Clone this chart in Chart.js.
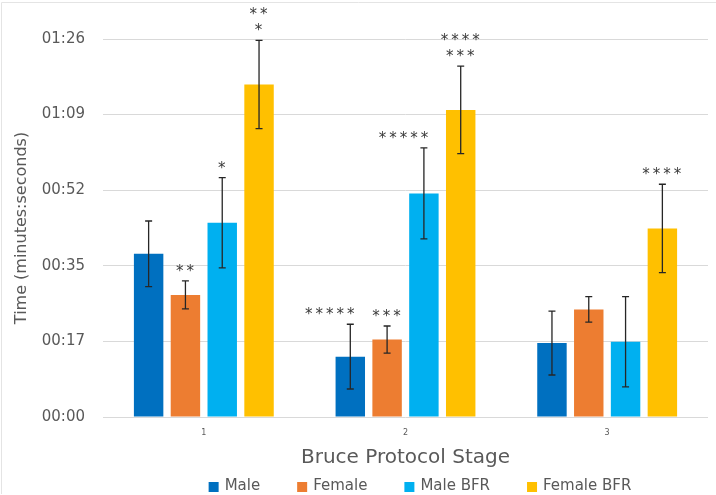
<!DOCTYPE html>
<html>
<head>
<meta charset="utf-8">
<script src="https://cdn.jsdelivr.net/npm/chart.js@4/dist/chart.umd.min.js"></script>
<style>
  html, body { margin: 0; padding: 0; background: #ffffff; }
  #wrap { width: 716px; height: 495px; position: relative; }
</style>
</head>
<body>
<div id="wrap"><canvas id="c" width="716" height="495"></canvas></div>
<script>
// ---- Data (seconds) ----
const stages = ["1", "2", "3"];
const seriesNames = ["Male", "Female", "Male BFR", "Female BFR"];
const maleValues      = [37.3, 13.8, 16.9];
const femaleValues    = [27.9, 17.7, 24.6];
const maleBfrValues   = [44.4, 51.1, 17.2];
const femaleBfrValues = [76.0, 70.2, 43.1];
const maleErrors      = [7.5, 7.4, 7.3];
const femaleErrors    = [3.2, 3.1, 2.9];
const maleBfrErrors   = [10.3, 10.4, 10.3];
const femaleBfrErrors = [10.1, 10.0, 10.1];
// significance marks (lines stacked upward above each error bar)
const maleMarks      = [[], ["*****"], []];
const femaleMarks    = [["**"], ["***"], []];
const maleBfrMarks   = [["*"], ["*****"], []];
const femaleBfrMarks = [["*", "**"], ["***", "****"], ["****"]];
const tickSeconds = [0, 17.28, 34.56, 51.84, 69.12, 86.4];
const tickLabels  = ["00:00", "00:17", "00:35", "00:52", "01:09", "01:26"];
const colors = ["#0070C0", "#ED7D31", "#00B0F0", "#FFC000"];

const valueSets = [maleValues, femaleValues, maleBfrValues, femaleBfrValues];
const errorSets = [maleErrors, femaleErrors, maleBfrErrors, femaleBfrErrors];
const markSets  = [maleMarks, femaleMarks, maleBfrMarks, femaleBfrMarks];

const FONT = "'DejaVu Sans', sans-serif";
const GRAY = "#595959";

const errorBarPlugin = {
  id: 'errorBars',
  afterDatasetsDraw(chart) {
    const ctx = chart.ctx;
    const y = chart.scales.y;
    ctx.save();
    chart.data.datasets.forEach((ds, i) => {
      const meta = chart.getDatasetMeta(i);
      meta.data.forEach((el, j) => {
        const v = valueSets[i][j], e = errorSets[i][j];
        const yt = y.getPixelForValue(v + e);
        const yb = y.getPixelForValue(v - e);
        const x = el.x;
        ctx.strokeStyle = "#262626";
        ctx.lineWidth = 1.3;
        ctx.beginPath();
        ctx.moveTo(x, yt); ctx.lineTo(x, yb);
        ctx.moveTo(x - 3.5, yt); ctx.lineTo(x + 3.5, yt);
        ctx.moveTo(x - 3.5, yb); ctx.lineTo(x + 3.5, yb);
        ctx.stroke();
        const marks = markSets[i][j];
        ctx.fillStyle = "#3a3a3a";
        ctx.font = "15px 'DejaVu Sans', sans-serif";
        ctx.textAlign = "center";
        ctx.textBaseline = "alphabetic";
        if ('letterSpacing' in ctx) ctx.letterSpacing = "3px";
        marks.forEach((m, k) => {
          const dx = m.length >= 5 ? -19 : 1;
          ctx.fillText(m, x + dx, yt - 5 - k * 16);
        });
        if ('letterSpacing' in ctx) ctx.letterSpacing = "0px";
      });
    });
    ctx.restore();
  }
};

const legendPlugin = {
  id: 'customLegend',
  afterDraw(chart) {
    const ctx = chart.ctx;
    ctx.save();
    ctx.font = "15px " + FONT;
    const box = 10, gapText = 6, gapItem = 37;
    const widths = seriesNames.map(n => ctx.measureText(n).width);
    const total = widths.reduce((a, w) => a + box + gapText + w, 0) + gapItem * (seriesNames.length - 1);
    let x = 420 - total / 2;
    const yc = 486;
    ctx.textBaseline = "middle";
    ctx.textAlign = "left";
    seriesNames.forEach((n, i) => {
      ctx.fillStyle = colors[i];
      ctx.fillRect(x, yc - 4, box, box);
      ctx.fillStyle = GRAY;
      ctx.fillText(n, x + box + gapText, yc);
      x += box + gapText + widths[i] + gapItem;
    });
    // faint frame of the original figure
    ctx.strokeStyle = "#e4e4e4";
    ctx.lineWidth = 1;
    ctx.beginPath();
    ctx.moveTo(1.5, 494); ctx.lineTo(1.5, 2.5); ctx.lineTo(716, 2.5);
    ctx.stroke();
    ctx.restore();
  }
};

new Chart(document.getElementById('c'), {
  type: 'bar',
  data: {
    labels: stages,
    datasets: seriesNames.map((name, i) => ({
      label: name,
      data: valueSets[i],
      backgroundColor: colors[i],
      borderWidth: 0,
      categoryPercentage: 0.73,
      barPercentage: 0.8
    }))
  },
  options: {
    responsive: false,
    animation: false,
    devicePixelRatio: 1,
    layout: { padding: { top: 39, right: 8, left: 0, bottom: 0 } },
    scales: {
      x: {
        afterFit(scale) { scale.height = 78; },
        grid: { display: false, drawTicks: false },
        border: { display: false },
        ticks: { color: GRAY, font: { family: FONT, size: 8 }, padding: 11 },
        title: { display: true, text: 'Bruce Protocol Stage', color: GRAY,
                 font: { family: FONT, size: 20 }, padding: { top: 0, bottom: 25 } }
      },
      y: {
        min: 0, max: 86.4,
        afterFit(scale) { scale.width = 103; },
        afterBuildTicks(scale) { scale.ticks = tickSeconds.map(v => ({ value: v })); },
        grid: { color: '#D9D9D9', drawTicks: false },
        border: { display: false },
        ticks: {
          color: GRAY, font: { family: FONT, size: 15 }, padding: 18,
          callback: (v, idx) => tickLabels[idx]
        },
        title: { display: true, text: 'Time (minutes:seconds)', color: GRAY,
                 font: { family: FONT, size: 16 }, padding: { top: 12, bottom: 0 } }
      }
    },
    plugins: {
      legend: { display: false },
      tooltip: { enabled: false }
    }
  },
  plugins: [errorBarPlugin, legendPlugin]
});
</script>
</body>
</html>
